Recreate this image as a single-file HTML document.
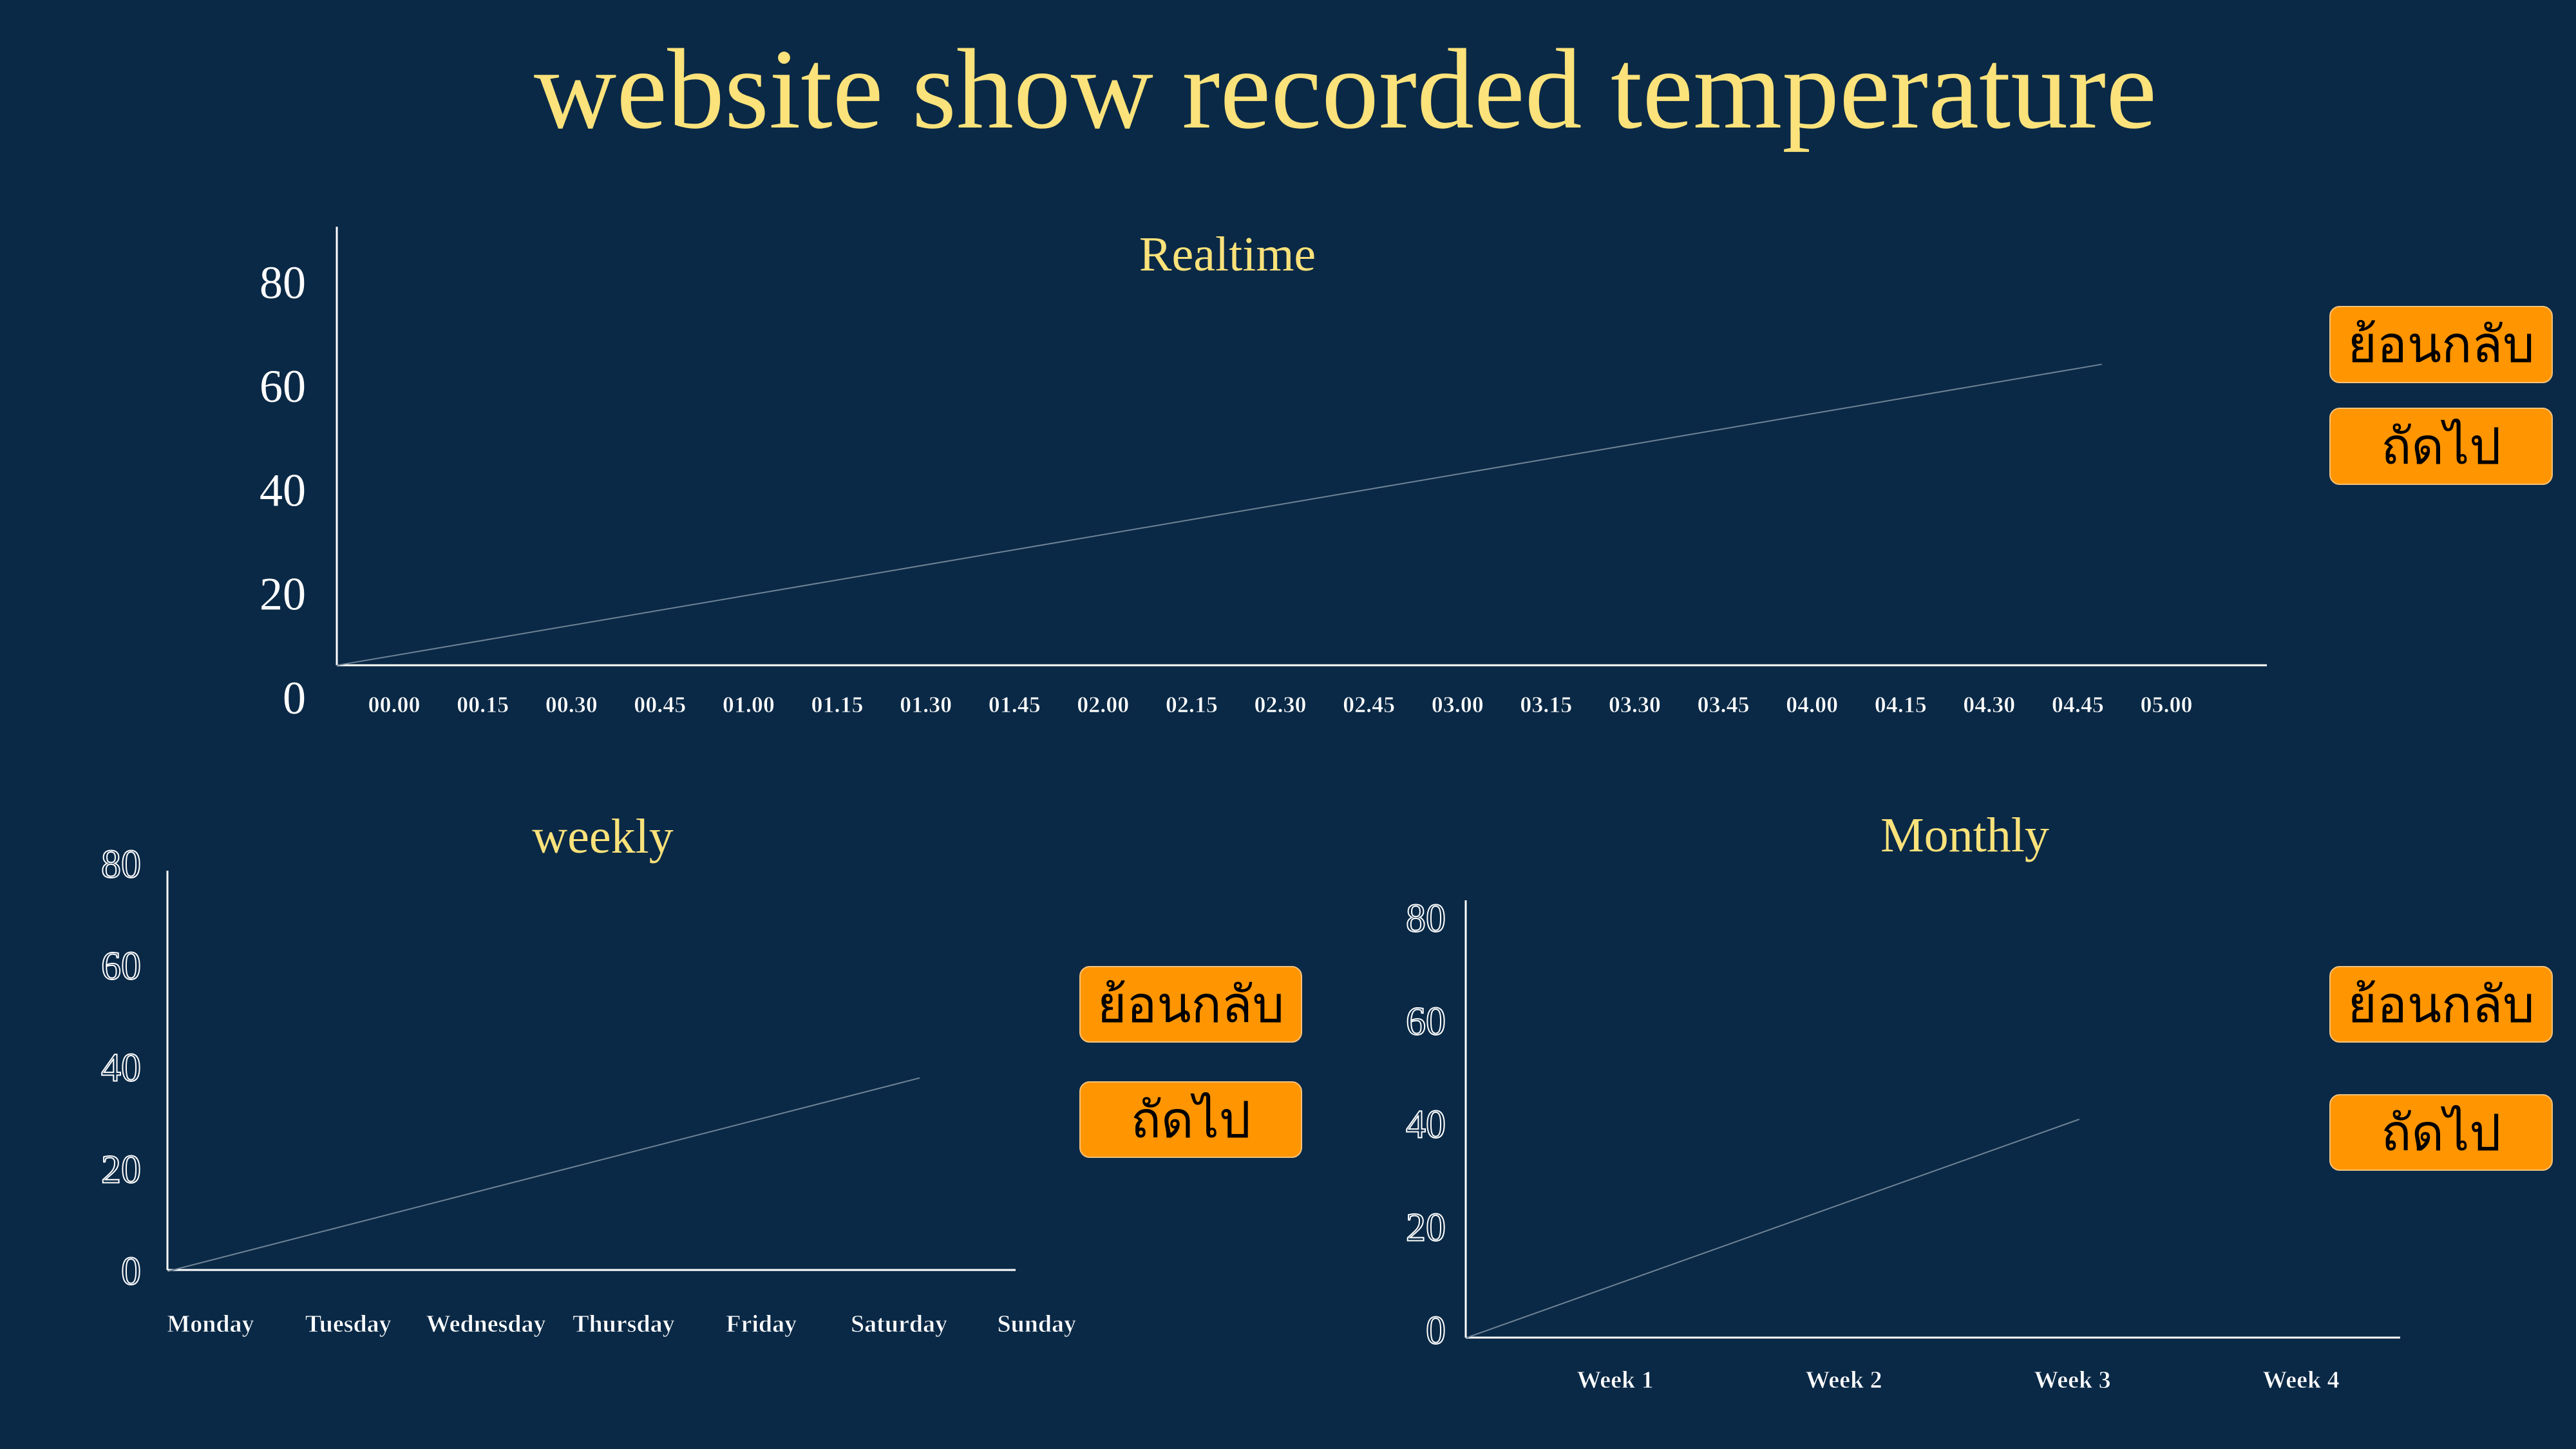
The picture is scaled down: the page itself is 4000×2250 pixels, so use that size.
<!DOCTYPE html>
<html><head><meta charset="utf-8"><style>
html,body{margin:0;padding:0;background:#0a2946;}
svg{display:block;}
.serif{font-family:"Liberation Serif",serif;}
.btn{position:absolute;background:#ff9500;border:2px solid #f7c27a;border-radius:16px;box-sizing:border-box;display:flex;align-items:center;justify-content:center;font-family:"Liberation Sans","DejaVu Sans",sans-serif;font-size:78px;color:#000;cursor:pointer;}
</style></head><body>
<div style="position:relative;width:4000px;height:2250px;overflow:hidden;background:#0a2946;">
<svg id="chart" width="4000" height="2250" viewBox="0 0 4000 2250" xmlns="http://www.w3.org/2000/svg">
<text class="serif" x="829" y="198" font-size="178" fill="#fbe27a" textLength="2520" lengthAdjust="spacingAndGlyphs">website show recorded temperature</text>
<text class="serif" x="1906" y="420" font-size="76" fill="#fbe27a" text-anchor="middle">Realtime</text>
<text class="serif" x="936" y="1324" font-size="76" fill="#fbe27a" text-anchor="middle">weekly</text>
<text class="serif" x="3051" y="1322" font-size="76" fill="#fbe27a" text-anchor="middle">Monthly</text>
<g id="g-rt"></g>
<g id="g-wk"></g>
<g id="g-mo"></g>
</svg>
<div class="btn" style="left:3617px;top:475px;width:347px;height:120px;">ย้อนกลับ</div>
<div class="btn" style="left:3617px;top:633px;width:347px;height:120px;">ถัดไป</div>
<div class="btn" style="left:1676px;top:1500px;width:346px;height:119px;">ย้อนกลับ</div>
<div class="btn" style="left:1676px;top:1679px;width:346px;height:119px;">ถัดไป</div>
<div class="btn" style="left:3617px;top:1500px;width:347px;height:119px;">ย้อนกลับ</div>
<div class="btn" style="left:3617px;top:1699px;width:347px;height:119px;">ถัดไป</div>
</div>
<script>
const yTicks = [0, 20, 40, 60, 80];
const realtimeCategories = ["00.00","00.15","00.30","00.45","01.00","01.15","01.30","01.45","02.00","02.15","02.30","02.45","03.00","03.15","03.30","03.45","04.00","04.15","04.30","04.45","05.00"];
const realtimeX = [-0.65, 19.27];
const realtimeValues = [6.3, 64.3];
const weeklyCategories = ["Monday","Tuesday","Wednesday","Thursday","Friday","Saturday","Sunday"];
const weeklyX = [-0.31, 5.15];
const weeklyValues = [0, 38];
const monthlyCategories = ["Week 1","Week 2","Week 3","Week 4"];
const monthlyX = [-0.65, 2.03];
const monthlyValues = [-1.4, 41];

const NS = "http://www.w3.org/2000/svg";
function mk(tag, attrs, parent){
  const e = document.createElementNS(NS, tag);
  for (const k in attrs) e.setAttribute(k, attrs[k]);
  parent.appendChild(e);
  return e;
}
function drawChart(g, cfg, cats, xs, vals){
  const xScale = i => cfg.x0 + i * cfg.step;
  const yScale = v => cfg.y0 - v * cfg.py;
  const ya = mk("line", {x1:cfg.ax, y1:cfg.top, x2:cfg.ax, y2:cfg.base, stroke:"#ffffff", "stroke-width":3}, g);
  
  
  const xa = mk("line", {x1:cfg.ax, y1:cfg.base, x2:cfg.xend, y2:cfg.base, stroke:"#ffffff", "stroke-width":3}, g);
  
  
  yTicks.forEach(v => {
    const t = mk("text", {x:cfg.lx, y:yScale(v)+cfg.fs*0.33, "font-size":cfg.fs, "text-anchor":"end", class:"serif",
      fill: cfg.outline ? "none" : "#ffffff", stroke: cfg.outline ? "#ffffff" : "none", "stroke-width":2}, g);
    
    
    t.textContent = v;
  });
  cats.forEach((c, i) => {
    const t = mk("text", {x:xScale(i), y:cfg.ly, "font-size":cfg.tfs, "text-anchor":"middle", class:"serif", "font-weight":"bold", fill:"#ffffff", stroke:"#0a2946", "stroke-width":0.8}, g);
    
    
    t.textContent = c;
  });
  const pts = vals.map((v, i) => xScale(xs[i]).toFixed(1) + "," + yScale(v).toFixed(1)).join(" ");
  const pl = mk("polyline", {points:pts, fill:"none", stroke:"#6f8396", "stroke-width":2}, g);
  
  
}
drawChart(document.getElementById("g-rt"),
  {x0:612, step:137.6, y0:1084, py:8.06, ax:523, top:352, base:1033, xend:3520, lx:475, fs:72, tfs:36, ly:1106, outline:false},
  realtimeCategories, realtimeX, realtimeValues);
drawChart(document.getElementById("g-wk"),
  {x0:327, step:213.8, y0:1974, py:7.9, ax:260, top:1352, base:1972, xend:1577, lx:219, fs:62, tfs:38, ly:2068, outline:true},
  weeklyCategories, weeklyX, weeklyValues);
drawChart(document.getElementById("g-mo"),
  {x0:2508, step:355, y0:2066, py:8.0, ax:2276, top:1398, base:2077, xend:3727, lx:2245, fs:62, tfs:38, ly:2155, outline:true},
  monthlyCategories, monthlyX, monthlyValues);
</script>
</body></html>
